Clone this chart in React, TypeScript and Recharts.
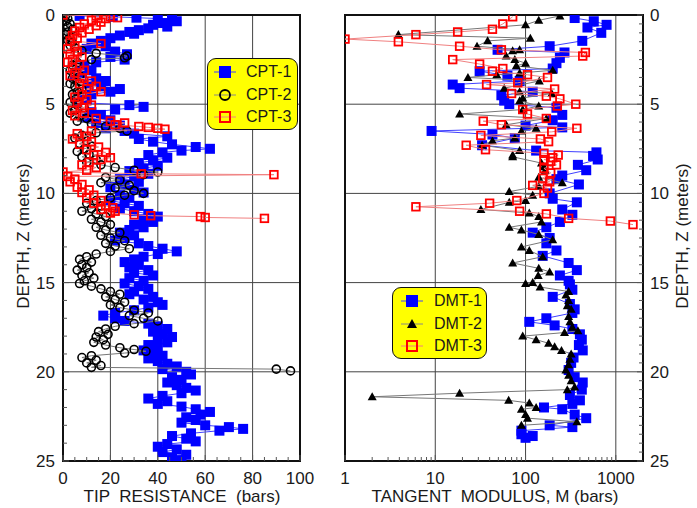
import { ScatterChart, Scatter, XAxis, YAxis, CartesianGrid, ReferenceArea } from 'recharts'

// [depth (m), tip resistance (bars)]
const cpt1: [number, number][] = [
  [0.05, 7], [0.1, 21], [0.15, 31], [0.2, 40], [0.25, 46], [0.35, 48], [0.45, 42], [0.55, 38], [0.65, 44], [0.75, 36],
  [0.85, 32], [0.95, 28], [1.05, 30], [1.15, 24], [1.3, 20], [1.45, 16], [1.6, 12], [1.75, 18], [1.9, 10], [2.05, 22],
  [2.2, 27], [2.35, 20], [2.5, 26], [2.65, 14], [2.8, 9], [2.95, 6], [3.1, 12], [3.25, 8], [3.4, 5], [3.55, 14],
  [3.7, 18], [3.85, 11], [4.0, 16], [4.15, 24], [4.3, 20], [4.45, 12], [4.6, 7], [4.75, 10], [4.9, 6], [5.05, 28],
  [5.15, 34], [5.3, 22], [5.45, 12], [5.6, 16], [5.75, 10], [5.9, 20], [6.05, 14], [6.2, 24], [6.35, 18], [6.5, 26],
  [6.65, 30], [6.8, 44], [6.95, 32], [7.1, 38], [7.25, 46], [7.4, 56], [7.5, 62], [7.6, 50], [7.7, 42], [7.85, 36],
  [8.0, 44], [8.15, 38], [8.3, 32], [8.45, 40], [8.6, 34], [8.75, 28], [8.9, 36], [9.05, 30], [9.2, 24], [9.35, 32],
  [9.5, 26], [9.65, 20], [9.8, 30], [9.95, 34], [10.1, 24], [10.25, 28], [10.4, 20], [10.55, 26], [10.7, 32], [10.85, 24],
  [11.0, 30], [11.15, 36], [11.3, 40], [11.45, 34], [11.6, 38], [11.75, 30], [11.9, 34], [12.05, 28], [12.2, 24], [12.35, 30],
  [12.5, 26], [12.65, 22], [12.8, 32], [12.95, 36], [13.1, 42], [13.25, 48], [13.4, 40], [13.55, 34], [13.7, 30], [13.85, 26],
  [14.0, 32], [14.15, 28], [14.3, 36], [14.45, 30], [14.6, 38], [14.75, 28], [14.9, 34], [15.05, 26], [15.2, 32], [15.35, 36],
  [15.5, 30], [15.65, 28], [15.8, 38], [15.95, 34], [16.1, 40], [16.25, 42], [16.4, 36], [16.55, 30], [16.7, 22], [16.85, 17],
  [17.0, 22], [17.15, 26], [17.3, 36], [17.45, 40], [17.6, 44], [17.75, 38], [17.9, 42], [18.05, 46], [18.2, 40], [18.35, 44],
  [18.5, 36], [18.65, 40], [18.8, 34], [18.95, 38], [19.1, 42], [19.25, 36], [19.4, 40], [19.55, 44], [19.7, 48], [19.85, 42],
  [20.0, 52], [20.15, 54], [20.3, 46], [20.45, 50], [20.6, 44], [20.75, 48], [20.9, 52], [21.05, 56], [21.2, 50], [21.35, 42],
  [21.5, 36], [21.65, 44], [21.8, 40], [21.95, 50], [22.1, 56], [22.25, 62], [22.4, 58], [22.55, 52], [22.7, 56], [22.85, 50],
  [23.0, 60], [23.1, 70], [23.2, 76], [23.3, 66], [23.45, 54], [23.6, 46], [23.75, 52], [23.9, 56], [24.05, 44], [24.2, 40],
  [24.35, 48], [24.5, 42], [24.65, 52], [24.8, 46], [24.95, 50],
]

const cpt2: [number, number][] = [
  [0.05, 1], [0.2, 2], [0.35, 1], [0.5, 3], [0.65, 2], [0.8, 4], [0.95, 2], [1.1, 1], [1.25, 3], [1.4, 2],
  [1.55, 4], [1.7, 3], [1.85, 5], [2.0, 8], [2.15, 14], [2.3, 27], [2.4, 26], [2.5, 12], [2.65, 6], [2.8, 4],
  [2.95, 6], [3.1, 3], [3.25, 5], [3.4, 7], [3.55, 4], [3.7, 6], [3.85, 3], [4.0, 5], [4.15, 8], [4.3, 6],
  [4.45, 4], [4.6, 7], [4.75, 5], [4.9, 3], [5.05, 6], [5.2, 9], [5.35, 5], [5.5, 3], [5.65, 7], [5.8, 10],
  [5.95, 6], [6.1, 12], [6.25, 18], [6.35, 24], [6.5, 27], [6.6, 14], [6.75, 8], [6.9, 5], [7.05, 10], [7.2, 7],
  [7.35, 12], [7.5, 9], [7.65, 6], [7.8, 11], [7.95, 8], [8.1, 14], [8.25, 10], [8.4, 16], [8.55, 22], [8.7, 30],
  [8.8, 40], [8.95, 34], [9.1, 18], [9.25, 24], [9.4, 16], [9.55, 28], [9.7, 22], [9.85, 30], [10.0, 34], [10.1, 26],
  [10.25, 20], [10.4, 14], [10.55, 10], [10.7, 16], [10.85, 12], [11.0, 8], [11.15, 14], [11.3, 18], [11.45, 12], [11.6, 16],
  [11.75, 20], [11.9, 14], [12.05, 18], [12.2, 24], [12.35, 16], [12.5, 20], [12.65, 26], [12.8, 18], [12.95, 22], [13.1, 28],
  [13.25, 20], [13.4, 14], [13.55, 10], [13.7, 7], [13.85, 12], [14.0, 8], [14.15, 10], [14.3, 6], [14.45, 11], [14.6, 8],
  [14.75, 13], [14.9, 9], [15.05, 7], [15.2, 12], [15.35, 16], [15.5, 20], [15.65, 24], [15.8, 18], [15.95, 22], [16.1, 26],
  [16.25, 20], [16.4, 24], [16.55, 30], [16.7, 36], [16.85, 28], [17.0, 34], [17.15, 40], [17.3, 30], [17.45, 22], [17.6, 18],
  [17.75, 15], [17.9, 19], [18.05, 14], [18.2, 17], [18.35, 13], [18.5, 18], [18.65, 24], [18.75, 30], [18.85, 35], [18.95, 26],
  [19.1, 12], [19.2, 8], [19.35, 14], [19.5, 10], [19.65, 16], [19.75, 12], [19.85, 90], [19.95, 96],
]

const cpt3: [number, number][] = [
  [0.0, 0], [0.05, 14], [0.1, 20], [0.15, 23], [0.2, 18], [0.3, 12], [0.4, 16], [0.5, 9], [0.6, 14], [0.7, 7],
  [0.8, 11], [0.9, 5], [1.0, 8], [1.15, 4], [1.3, 6], [1.45, 3], [1.6, 16], [1.75, 5], [1.9, 2], [2.05, 6],
  [2.2, 3], [2.35, 8], [2.5, 4], [2.65, 2], [2.8, 7], [2.95, 4], [3.1, 9], [3.25, 5], [3.4, 3], [3.55, 8],
  [3.7, 12], [3.85, 7], [4.0, 14], [4.15, 10], [4.3, 16], [4.45, 8], [4.6, 5], [4.75, 10], [4.9, 6], [5.05, 12],
  [5.2, 8], [5.35, 4], [5.5, 9], [5.65, 5], [5.8, 14], [5.95, 20], [6.05, 26], [6.15, 22], [6.25, 32], [6.3, 36],
  [6.35, 40], [6.4, 43], [6.5, 12], [6.65, 6], [6.8, 10], [6.95, 4], [7.1, 12], [7.25, 7], [7.4, 15], [7.55, 10],
  [7.7, 18], [7.85, 13], [8.0, 20], [8.1, 16], [8.25, 11], [8.4, 8], [8.55, 14], [8.7, 10], [8.8, 0], [8.9, 33],
  [8.95, 89], [9.05, 2], [9.2, 5], [9.35, 3], [9.5, 8], [9.65, 6], [9.8, 11], [9.95, 8], [10.1, 13], [10.25, 10],
  [10.4, 16], [10.55, 13], [10.7, 18], [10.8, 21], [10.9, 16], [11.0, 22], [11.1, 20], [11.2, 30], [11.25, 37], [11.3, 58],
  [11.35, 60], [11.4, 85],
]

// [depth (m), tangent modulus M (bars)]
const dmt1: [number, number][] = [
  [0.17, 350], [0.35, 570], [0.55, 790], [0.7, 485], [1.0, 690], [1.45, 425], [1.75, 185], [1.95, 49], [2.1, 270], [2.4, 240],
  [2.7, 220], [3.0, 200], [3.15, 31], [3.4, 63], [3.7, 86], [3.9, 15.6], [4.1, 18.6], [4.3, 120], [4.5, 54], [4.8, 58],
  [5.0, 66], [5.2, 220], [5.6, 255], [5.9, 200], [6.2, 100], [6.3, 255], [6.5, 9.1], [6.7, 43], [6.9, 76], [7.3, 33],
  [7.6, 131], [7.7, 610], [7.9, 560], [8.1, 630], [8.4, 380], [8.7, 470], [9.0, 255], [9.2, 220], [9.5, 390], [10.0, 185],
  [10.3, 200], [10.5, 370], [10.9, 255], [11.2, 330], [11.6, 240], [11.9, 170], [12.2, 120], [12.5, 185], [12.8, 170], [13.2, 220],
  [13.5, 155], [13.9, 300], [14.3, 370], [14.6, 240], [14.9, 300], [15.1, 310], [15.4, 330], [15.8, 200], [16.2, 310], [16.5, 350],
  [16.7, 330], [17.0, 170], [17.2, 110], [17.4, 210], [17.6, 330], [17.9, 400], [18.2, 420], [18.5, 390], [18.8, 430], [19.2, 340],
  [19.5, 320], [19.9, 300], [20.3, 350], [20.6, 430], [21.0, 420], [21.3, 310], [21.6, 400], [21.8, 330], [22.0, 160], [22.1, 255],
  [22.4, 350], [22.6, 470], [23.0, 185], [23.1, 330], [23.3, 90], [23.5, 90], [23.6, 120], [23.7, 100],
]

const dmt2: [number, number][] = [
  [0.05, 240], [0.3, 140], [0.55, 100], [1.1, 3.9], [1.3, 113], [1.45, 38], [1.75, 29], [1.95, 86], [2.0, 72], [2.3, 61],
  [2.5, 76], [2.7, 100], [2.85, 79], [3.1, 200], [3.25, 86], [3.35, 48], [3.5, 23], [3.7, 142], [4.1, 58], [4.3, 86],
  [4.4, 195], [4.65, 93], [4.8, 86], [5.1, 140], [5.3, 93], [5.55, 18.6], [5.8, 170], [6.15, 61], [6.35, 131], [6.5, 90],
  [6.9, 76], [7.05, 43], [7.3, 33], [7.6, 86], [7.85, 72], [7.95, 72], [8.3, 150], [8.5, 160], [8.7, 165], [9.1, 140],
  [9.4, 255], [9.6, 140], [9.9, 66], [10.1, 120], [10.4, 100], [10.5, 66], [10.9, 32], [11.1, 110], [11.3, 140], [11.6, 150],
  [11.9, 66], [12.05, 90], [12.3, 140], [12.6, 200], [13.0, 90], [13.2, 110], [13.55, 155], [13.9, 72], [14.2, 140], [14.4, 185],
  [14.6, 138], [15.0, 120], [15.05, 100], [15.25, 145], [15.5, 300], [15.7, 280], [16.0, 300], [16.3, 290], [16.5, 320], [16.9, 300],
  [17.2, 310], [17.5, 330], [17.7, 380], [17.8, 270], [18.0, 93], [18.2, 131], [18.4, 180], [18.6, 210], [18.8, 250], [19.0, 320],
  [19.3, 310], [19.6, 300], [19.9, 280], [20.2, 300], [20.5, 320], [20.85, 350], [21.0, 290], [21.2, 18.6], [21.4, 2.0], [21.6, 65],
  [21.75, 110], [22.0, 131], [22.1, 90], [22.4, 100], [22.6, 105], [22.8, 370], [23.0, 90],
]

const dmt3: [number, number][] = [
  [0.1, 72], [0.5, 56], [0.8, 43], [0.95, 17.7], [1.1, 6.1], [1.35, 1.0], [1.5, 3.9], [1.75, 18.6], [1.95, 54], [2.1, 460],
  [2.3, 430], [2.5, 15.6], [2.75, 31], [3.0, 56], [3.15, 43], [3.35, 105], [3.5, 175], [3.8, 82], [3.9, 37], [4.15, 210],
  [4.4, 70], [4.55, 170], [4.7, 240], [5.0, 360], [5.1, 225], [5.3, 93], [5.55, 105], [5.8, 170], [5.95, 34], [6.15, 54],
  [6.35, 370], [6.55, 195], [6.75, 32], [6.95, 146], [7.1, 180], [7.3, 22], [7.55, 36], [7.75, 160], [7.85, 230], [8.0, 200],
  [8.1, 160], [8.2, 190], [8.4, 220], [8.6, 160], [8.85, 190], [9.15, 155], [9.35, 185], [9.55, 120], [9.7, 175], [10.0, 160],
  [10.4, 80], [10.55, 40], [10.75, 6.1], [11.0, 86], [11.15, 170], [11.4, 300], [11.55, 870], [11.75, 1550],
]

const tipTicks = [0, 5, 10, 15, 20, 25, 30, 35, 40, 45, 50, 55, 60, 65, 70, 75, 80, 85, 90, 95, 100]
const tipLabels = [0, 20, 40, 60, 80, 100]
const tipGrid = [20, 40, 60, 80]
const modulusTicks = [1, 2, 3, 4, 5, 6, 7, 8, 9, 10, 20, 30, 40, 50, 60, 70, 80, 90, 100, 200, 300, 400, 500, 600, 700, 800, 900, 1000]
const modulusLabels = [1, 10, 100, 1000]
const modulusGrid = [10, 100, 1000]
const depthTicks = [0, 1, 2, 3, 4, 5, 6, 7, 8, 9, 10, 11, 12, 13, 14, 15, 16, 17, 18, 19, 20, 21, 22, 23, 24, 25]
const depthTicksHalf = [
  0, 0.5, 1, 1.5, 2, 2.5, 3, 3.5, 4, 4.5, 5, 5.5, 6, 6.5, 7, 7.5, 8, 8.5, 9, 9.5, 10, 10.5, 11, 11.5, 12, 12.5,
  13, 13.5, 14, 14.5, 15, 15.5, 16, 16.5, 17, 17.5, 18, 18.5, 19, 19.5, 20, 20.5, 21, 21.5, 22, 22.5, 23, 23.5, 24, 24.5, 25,
]
const depthLabels = [0, 5, 10, 15, 20, 25]
const depthGrid = [5, 10, 15, 20]

const toPoints = (rows: [number, number][]) => rows.map(([depth, v]) => ({ depth, v }))

const FONT = '"Liberation Sans", Arial, sans-serif'
const INK = '#1a1a1a'

const blueSquare = (p: any) => <rect x={p.cx - 5} y={p.cy - 5} width={10} height={10} fill="#0000ff" />
const openCircle = (p: any) => <circle cx={p.cx} cy={p.cy} r={4} fill="none" stroke="#000" strokeWidth={1.6} />
const openRedSquare = (p: any) => (
  <rect x={p.cx - 3.8} y={p.cy - 3.8} width={7.6} height={7.6} fill="none" stroke="#ff0000" strokeWidth={1.8} />
)
const blackTriangle = (p: any) => (
  <polygon points={`${p.cx},${p.cy - 4.5} ${p.cx + 4.5},${p.cy + 3.5} ${p.cx - 4.5},${p.cy + 3.5}`} fill="#000" />
)

const leftDepthTick = (props: any) => {
  const { x, y, payload } = props
  const v = payload.value
  const major = depthLabels.includes(v)
  return (
    <g>
      <line x1={x + 8} x2={x + 8 + (major ? 6 : 4)} y1={y} y2={y} stroke="#555" strokeWidth={1} />
      {major && (
        <text x={x} y={y} dy={6} textAnchor="end" fontSize={17} fill={INK} fontFamily={FONT}>
          {v}
        </text>
      )}
    </g>
  )
}

const rightDepthTick = (props: any) => {
  const { x, y, payload } = props
  const v = payload.value
  const major = depthLabels.includes(v)
  return (
    <g>
      <line x1={x - 7} x2={x - 7 - (major ? 6 : 4)} y1={y} y2={y} stroke="#555" strokeWidth={1} />
      {major && (
        <text x={x} y={y} dy={6} textAnchor="start" fontSize={17} fill={INK} fontFamily={FONT}>
          {v}
        </text>
      )}
    </g>
  )
}

const makeBottomTick = (labels: number[]) => (props: any) => {
  const { x, y, payload } = props
  const v = payload.value
  const major = labels.includes(v)
  return (
    <g>
      <line x1={x} x2={x} y1={y - 8} y2={y - 8 - (major ? 6 : 4)} stroke="#555" strokeWidth={1} />
      {major && (
        <text x={x} y={y + 15} textAnchor="middle" fontSize={17} fill={INK} fontFamily={FONT}>
          {v}
        </text>
      )}
    </g>
  )
}

type LegendItem = { label: string; shape: 'blueSquare' | 'openCircle' | 'openRedSquare' | 'blackTriangle'; line: string }

function LegendSymbol({ shape, line }: { shape: LegendItem['shape']; line: string }) {
  const p = { cx: 13, cy: 8 }
  return (
    <svg width={26} height={16} style={{ display: 'block' }}>
      <line x1={2} x2={24} y1={8} y2={8} stroke={line} strokeWidth={1} />
      {shape === 'blueSquare' && (
        <rect x={p.cx - 6} y={p.cy - 6} width={12} height={12} fill="#0000ff" />
      )}
      {shape === 'openCircle' && <circle cx={p.cx} cy={p.cy} r={5} fill="none" stroke="#000" strokeWidth={1.8} />}
      {shape === 'openRedSquare' && (
        <rect x={p.cx - 5} y={p.cy - 5} width={10} height={10} fill="none" stroke="#ff0000" strokeWidth={2} />
      )}
      {shape === 'blackTriangle' && (
        <polygon points={`${p.cx},${p.cy - 5} ${p.cx + 5},${p.cy + 4} ${p.cx - 5},${p.cy + 4}`} fill="#000" />
      )}
    </svg>
  )
}

function LegendBox({ left, top, width, height, items, symbolX, textX }: {
  left: number; top: number; width: number; height: number; items: LegendItem[]; symbolX: number; textX: number
}) {
  return (
    <div
      style={{
        position: 'absolute', left, top, width, height, boxSizing: 'border-box',
        background: '#ffff00', border: '1.5px solid #111', borderRadius: 9,
      }}
    >
      {items.map((it, i) => (
        <div key={it.label} style={{ position: 'absolute', left: 0, top: 4 + i * 22.5, height: 18, width: '100%' }}>
          <div style={{ position: 'absolute', left: symbolX - 13, top: 1 }}>
            <LegendSymbol shape={it.shape} line={it.line} />
          </div>
          <div style={{ position: 'absolute', left: textX, top: 0, fontSize: 16, lineHeight: '18px', color: INK }}>
            {it.label}
          </div>
        </div>
      ))}
    </div>
  )
}

const cptLegend: LegendItem[] = [
  { label: 'CPT-1', shape: 'blueSquare', line: '#4040ff' },
  { label: 'CPT-2', shape: 'openCircle', line: '#888' },
  { label: 'CPT-3', shape: 'openRedSquare', line: '#f08080' },
]
const dmtLegend: LegendItem[] = [
  { label: 'DMT-1', shape: 'blueSquare', line: '#4040ff' },
  { label: 'DMT-2', shape: 'blackTriangle', line: '#888' },
  { label: 'DMT-3', shape: 'openRedSquare', line: '#f08080' },
]

const textBase: React.CSSProperties = { position: 'absolute', fontSize: 17, color: INK, whiteSpace: 'pre', lineHeight: '20px' }

export default function App() {
  return (
    <div style={{ position: 'absolute', left: 0, top: 0, width: 697, height: 508, background: '#fff', fontFamily: FONT, overflow: 'hidden' }}>
      <div style={{ position: 'absolute', left: 0, top: 0 }}>
        <ScatterChart width={330} height={508} margin={{ top: 15, right: 30, bottom: 17, left: 0 }}>
          <CartesianGrid verticalValues={tipGrid} horizontalValues={depthGrid} stroke="#444" strokeWidth={1} />
          <XAxis
            type="number" dataKey="v" domain={[0, 100]} ticks={tipTicks} interval={0}
            height={30} tickSize={0} tickMargin={8} axisLine={false} tickLine={false}
            tick={makeBottomTick(tipLabels)} allowDataOverflow
          />
          <YAxis
            type="number" dataKey="depth" domain={[0, 25]} reversed ticks={depthTicks} interval={0}
            width={63} tickSize={0} tickMargin={8} axisLine={false} tickLine={false}
            tick={leftDepthTick} allowDataOverflow
          />
          <Scatter data={toPoints(cpt1)} shape={blueSquare} line={{ stroke: '#4040ff', strokeWidth: 1 }} isAnimationActive={false} />
          <Scatter data={toPoints(cpt2)} shape={openCircle} line={{ stroke: '#777', strokeWidth: 1 }} isAnimationActive={false} />
          <Scatter data={toPoints(cpt3)} shape={openRedSquare} line={{ stroke: '#f08080', strokeWidth: 1 }} isAnimationActive={false} />
          <ReferenceArea x1={0} x2={100} y1={0} y2={25} fill="none" fillOpacity={0} stroke="#111" strokeWidth={2} />
        </ScatterChart>
      </div>

      <div style={{ position: 'absolute', left: 335, top: 0 }}>
        <ScatterChart width={362} height={508} margin={{ top: 15, right: 0, bottom: 17, left: 10 }}>
          <CartesianGrid verticalValues={modulusGrid} horizontalValues={depthGrid} stroke="#444" strokeWidth={1} />
          <XAxis
            type="number" dataKey="v" scale="log" domain={[1, 2000]} ticks={modulusTicks} interval={0}
            height={30} tickSize={0} tickMargin={8} axisLine={false} tickLine={false}
            tick={makeBottomTick(modulusLabels)} allowDataOverflow
          />
          <YAxis
            type="number" dataKey="depth" orientation="right" domain={[0, 25]} reversed ticks={depthTicksHalf} interval={0}
            width={54} tickSize={0} tickMargin={7} axisLine={false} tickLine={false}
            tick={rightDepthTick} allowDataOverflow
          />
          <Scatter data={toPoints(dmt1)} shape={blueSquare} line={{ stroke: '#4040ff', strokeWidth: 1 }} isAnimationActive={false} />
          <Scatter data={toPoints(dmt2)} shape={blackTriangle} line={{ stroke: '#777', strokeWidth: 1 }} isAnimationActive={false} />
          <Scatter data={toPoints(dmt3)} shape={openRedSquare} line={{ stroke: '#f08080', strokeWidth: 1 }} isAnimationActive={false} />
          <ReferenceArea x1={1} x2={2000} y1={0} y2={25} fill="none" fillOpacity={0} stroke="#111" strokeWidth={2} />
        </ScatterChart>
      </div>

      <LegendBox left={207} top={58} width={91} height={72} items={cptLegend} symbolX={17} textX={38} />
      <LegendBox left={392} top={287} width={95} height={72} items={dmtLegend} symbolX={19} textX={41} />

      <div style={{ ...textBase, left: 82, top: 487, width: 200, textAlign: 'center' }}>TIP  RESISTANCE  (bars)</div>
      <div style={{ ...textBase, left: 365, top: 487, width: 260, textAlign: 'center' }}>TANGENT  MODULUS, M (bars)</div>
      <div
        style={{ ...textBase, left: 24 - 90, top: 236 - 10, width: 180, textAlign: 'center', transform: 'rotate(-90deg)' }}
      >
        DEPTH, Z (meters)
      </div>
      <div
        style={{ ...textBase, left: 683 - 90, top: 236 - 10, width: 180, textAlign: 'center', transform: 'rotate(-90deg)' }}
      >
        DEPTH, Z (meters)
      </div>
    </div>
  )
}
